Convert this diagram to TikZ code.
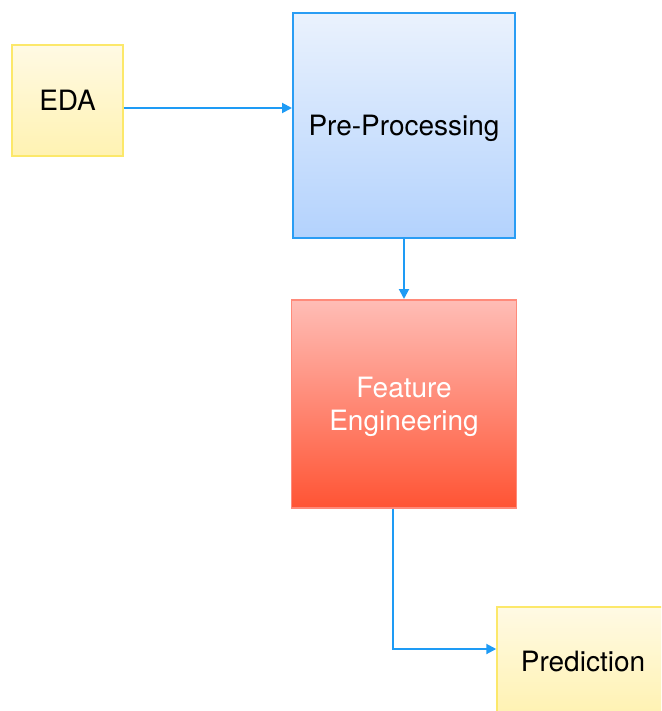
\documentclass[tikz,border=0pt]{standalone}
\usepackage{fontspec}
\setmainfont{TeX Gyre Heros}
\usepackage{tikz}
\usetikzlibrary{positioning,arrows.meta,calc}
\definecolor{bleuTrait}{HTML}{1E9BF5}
\definecolor{bleuBord}{HTML}{2A9DF4}
\definecolor{bleuHaut}{HTML}{EAF2FD}
\definecolor{bleuBas}{HTML}{B3D2FD}
\definecolor{rougeBord}{HTML}{FF8A7A}
\definecolor{rougeHaut}{HTML}{FFBDB6}
\definecolor{rougeBas}{HTML}{FF5434}
\definecolor{jauneBord}{HTML}{FCE86A}
\definecolor{jauneHaut}{HTML}{FFFAE4}
\definecolor{jauneBas}{HTML}{FFF2B2}
\tikzset{
  bloc/.style={
    rectangle, inner sep=0pt, align=center,
    font=\fontsize{28}{33}\selectfont},
  blocJaune/.style={bloc, draw=jauneBord, line width=1.5pt,
    top color=jauneHaut, bottom color=jauneBas},
  blocBleu/.style={bloc, draw=bleuBord, line width=2pt,
    top color=bleuHaut, bottom color=bleuBas},
  blocRouge/.style={bloc, draw=rougeBord, line width=1.5pt,
    top color=rougeHaut, bottom color=rougeBas, text=white},
  fleche/.style={-{Triangle[length=10pt,width=10pt]}, draw=bleuTrait, line width=2pt}
}
\begin{document}
\begin{tikzpicture}[x=1pt, y=-1pt]
  \useasboundingbox (0,0) rectangle (661,711);
  \clip (0,0) rectangle (661,711);

  % --- Etapes
  \node[blocJaune, minimum width=111pt, minimum height=111pt] (eda) at (67.5,100.5) {EDA};
  \node[blocBleu, minimum width=222pt, minimum height=225pt] (pre) at (404,125.5)
    {\raisebox{-10.5pt}[0pt][0pt]{Pre-Processing}};
  \node[blocRouge, minimum width=225pt, minimum height=208pt, below=60pt of pre] (fe)
    {\rule{0pt}{27pt}Feature\\Engineering};
  \node[blocJaune, minimum width=172pt, minimum height=108pt] (pred) at (583,661) {Prediction};

  % --- Liaisons
  \draw[fleche] ([yshift=-7.5pt]eda.east) -- ([yshift=-7.5pt]eda.east -| pre.west);
  \draw[fleche] (pre) -- (fe);
  \draw[fleche] ([xshift=-11.5pt]fe.south) |- ([yshift=12pt]pred.west);

\end{tikzpicture}
\end{document}
